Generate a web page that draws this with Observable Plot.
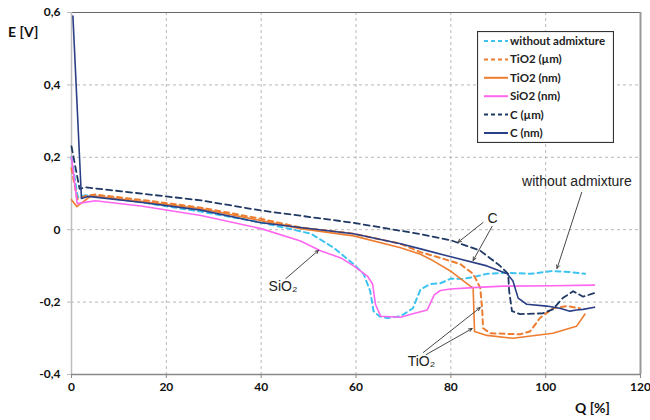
<!DOCTYPE html>
<html>
<head>
<meta charset="utf-8">
<script src="https://cdn.jsdelivr.net/npm/d3@7"></script>
<script src="https://cdn.jsdelivr.net/npm/@observablehq/plot@0.6"></script>
<style>
  html, body { margin: 0; padding: 0; background: #fff; }
  #wrap { position: relative; width: 650px; height: 420px; font-family: Lato, "Open Sans", sans-serif; }
  .axt { position: absolute; font-weight: bold; font-size: 14px; color: #111; font-family: Lato, sans-serif; }
  #legend { position: absolute; left: 477px; top: 31px; }
</style>
</head>
<body>
<div id="wrap">
  <div class="axt" style="left:8px; top:23px;">E [V]</div>
  <div class="axt" style="left:575px; top:399px;">Q [%]</div>
  <div id="chart"></div>
  <div id="legend"></div>
</div>
<script>
// ---- data ----
const seriesNames = ["without admixture", "TiO2 (µm)", "TiO2 (nm)", "SiO2 (nm)", "C (µm)", "C (nm)"];

const xWithout = [0, 1.3, 3, 5, 15, 27.3, 40, 50.5, 55.3, 59.5, 61.6, 63, 63.7, 65, 66.6, 69.4, 72, 73.6, 75.7, 77.8, 80, 82.6, 85, 87.6, 91.9, 96.7, 101.5, 105.1, 108.3];
const yWithout = [0.2, 0.09, 0.095, 0.093, 0.075, 0.05, 0.02, -0.011, -0.05, -0.095, -0.122, -0.17, -0.225, -0.24, -0.244, -0.239, -0.217, -0.165, -0.15, -0.148, -0.135, -0.136, -0.13, -0.122, -0.119, -0.122, -0.114, -0.117, -0.122];

const xTiO2um = [0, 1.2, 3, 5, 15, 27.3, 40, 48.3, 59.5, 69.4, 73.6, 77.8, 82, 84.7, 86.2, 86.6, 86.8, 88.3, 94.6, 96.7, 98.8, 101.5, 104.5, 107.2];
const yTiO2um = [0.17, 0.085, 0.093, 0.097, 0.082, 0.061, 0.03, 0.006, -0.011, -0.039, -0.062, -0.078, -0.095, -0.122, -0.16, -0.217, -0.272, -0.286, -0.289, -0.281, -0.244, -0.217, -0.211, -0.217];

const xTiO2nm = [0, 1.1, 4.2, 15, 27.3, 40, 48.3, 59.5, 69.4, 73.6, 76.3, 79.9, 84.1, 84.7, 85, 87.6, 93.1, 101.5, 106.5, 108.3];
const yTiO2nm = [0.083, 0.064, 0.094, 0.078, 0.058, 0.025, 0.003, -0.017, -0.05, -0.068, -0.086, -0.114, -0.156, -0.16, -0.281, -0.292, -0.3, -0.286, -0.267, -0.233];

const xSiO2nm = [0, 1.2, 5, 15, 27.3, 40, 48.3, 52.5, 56.8, 59.5, 62.4, 63.5, 64.1, 65.2, 69.4, 72, 75, 76.5, 77.8, 79.9, 84.7, 91, 101.5, 110.3];
const ySiO2nm = [0.2, 0.072, 0.08, 0.065, 0.039, 0.003, -0.031, -0.058, -0.078, -0.1, -0.128, -0.15, -0.206, -0.239, -0.242, -0.232, -0.222, -0.18, -0.168, -0.164, -0.16, -0.156, -0.155, -0.153];

const xCum = [0, 1.7, 3, 10.5, 27.3, 40, 59.5, 69.4, 73.6, 80.2, 86.2, 90.4, 92.1, 92.3, 92.9, 94.6, 99.4, 101.5, 103.6, 105.8, 107.9, 110.3];
const yCum = [0.23, 0.113, 0.117, 0.106, 0.081, 0.053, 0.019, -0.003, -0.012, -0.03, -0.058, -0.1, -0.122, -0.17, -0.225, -0.233, -0.231, -0.22, -0.189, -0.17, -0.185, -0.175];

const xCnm = [0.3, 2.1, 3.5, 15, 27.3, 40, 48.3, 59.5, 69.4, 73.6, 80, 87.6, 91.9, 93.1, 94.2, 96, 100.2, 103, 105.1, 106.5, 107.9, 110.3];
const yCnm = [0.59, 0.086, 0.092, 0.075, 0.054, 0.019, 0.006, -0.011, -0.039, -0.053, -0.075, -0.1, -0.122, -0.142, -0.189, -0.206, -0.211, -0.217, -0.225, -0.222, -0.22, -0.214];

const xTicks = [0, 20, 40, 60, 80, 100, 120];
const yTicks = [-0.4, -0.2, 0, 0.2, 0.4, 0.6];

// annotation labels (data units) and their arrows
const annLabels = [
  {text: "SiO₂", x: 44.6, y: -0.158},
  {text: "C", x: 88.8, y: 0.03},
  {text: "without admixture", x: 106.6, y: 0.133},
  {text: "TiO₂", x: 73.8, y: -0.365}
];
const annArrows = [
  {x1: 45.2, y1: -0.135, x2: 52.1, y2: -0.057},
  {x1: 86.8, y1: 0.02, x2: 81.5, y2: -0.035},
  {x1: 88.7, y1: 0.009, x2: 84.7, y2: -0.085},
  {x1: 107.6, y1: 0.103, x2: 102.4, y2: -0.107},
  {x1: 74.2, y1: -0.339, x2: 86.2, y2: -0.215},
  {x1: 74.8, y1: -0.345, x2: 84.5, y2: -0.273}
];

// ---- styles ----
const styles = [
  {color: "#3cc3f0", dash: "5,4", width: 2},
  {color: "#ed7d31", dash: "5,4", width: 2},
  {color: "#ed7d31", dash: null, width: 1.6},
  {color: "#ff66f0", dash: null, width: 1.6},
  {color: "#1f3864", dash: "6,4", width: 1.8},
  {color: "#2b3f86", dash: null, width: 1.6}
];

const xs = [xWithout, xTiO2um, xTiO2nm, xSiO2nm, xCum, xCnm];
const ys = [yWithout, yTiO2um, yTiO2nm, ySiO2nm, yCum, yCnm];
const rows = [];
seriesNames.forEach((s, i) => xs[i].forEach((x, j) => rows.push({series: s, x, y: ys[i][j]})));

const fmt = d => d === 0 ? "0" : d3.format(".1f")(d).replace(".", ",").replace("−", "-");

const lineMarks = seriesNames.map((s, i) => Plot.line(rows.filter(r => r.series === s), {
  x: "x", y: "y", stroke: styles[i].color, strokeWidth: styles[i].width,
  strokeDasharray: styles[i].dash, curve: "linear", strokeLinejoin: "round"
}));

const chart = Plot.plot({
  width: 650,
  height: 420,
  marginTop: 12,
  marginBottom: 46,
  marginLeft: 71,
  marginRight: 10,
  style: {fontFamily: "Lato, 'Open Sans', sans-serif", fontSize: "12px", fontWeight: "bold", color: "#111", background: "white"},
  x: {domain: [0, 120]},
  y: {domain: [-0.4, 0.6]},
  marks: [
    Plot.gridY(yTicks.filter(d => d > -0.4 && d < 0.6), {stroke: "#b8b8b8", strokeOpacity: 1, strokeDasharray: "3,3"}),
    Plot.gridX(xTicks.filter(d => d > 0 && d < 120), {stroke: "#b8b8b8", strokeOpacity: 1, strokeDasharray: "3,3"}),
    Plot.ruleY([0.6], {stroke: "#666", strokeWidth: 1.2}),
    Plot.ruleX([120], {stroke: "#999", strokeWidth: 2}),
    Plot.ruleX([0], {stroke: "#bdbdbd", strokeWidth: 1.5}),
    Plot.ruleY([-0.4], {stroke: "#888", strokeWidth: 1.5}),
    Plot.axisX(xTicks, {tickSize: 4, tickPadding: 4, stroke: "#888", label: null, fontWeight: "bold"}),
    Plot.axisY(yTicks, {tickSize: 4, tickPadding: 7, stroke: "#bbb", label: null, tickFormat: fmt, fontWeight: "bold"}),
    ...lineMarks,
    Plot.arrow(annArrows, {x1: "x1", y1: "y1", x2: "x2", y2: "y2", stroke: "#333", strokeWidth: 0.9, headLength: 6, headAngle: 50}),
    Plot.text(annLabels, {x: "x", y: "y", text: "text", fontFamily: "'Liberation Sans', Arial, sans-serif", fontSize: 14, fontWeight: "normal", fill: "#222"})
  ]
});
document.getElementById("chart").appendChild(chart);

// ---- legend ----
const lw = 137, lh = 112;
const leg = d3.select("#legend").append("svg").attr("width", lw).attr("height", lh);
leg.append("rect").attr("x", 0.5).attr("y", 0.5).attr("width", lw - 1).attr("height", lh - 1)
  .attr("fill", "white").attr("stroke", "#333").attr("stroke-width", 1.2);
seriesNames.forEach((s, i) => {
  const yy = 10 + i * 18.4;
  leg.append("line").attr("x1", 7).attr("x2", 31).attr("y1", yy).attr("y2", yy)
    .attr("stroke", styles[i].color).attr("stroke-width", 2)
    .attr("stroke-dasharray", styles[i].dash ? "4,3" : null);
  leg.append("text").attr("x", 33).attr("y", yy + 4).text(s)
    .attr("font-family", "Lato, sans-serif").attr("font-weight", "bold").attr("font-size", 11.5).attr("fill", "#222");
});
</script>
</body>
</html>
